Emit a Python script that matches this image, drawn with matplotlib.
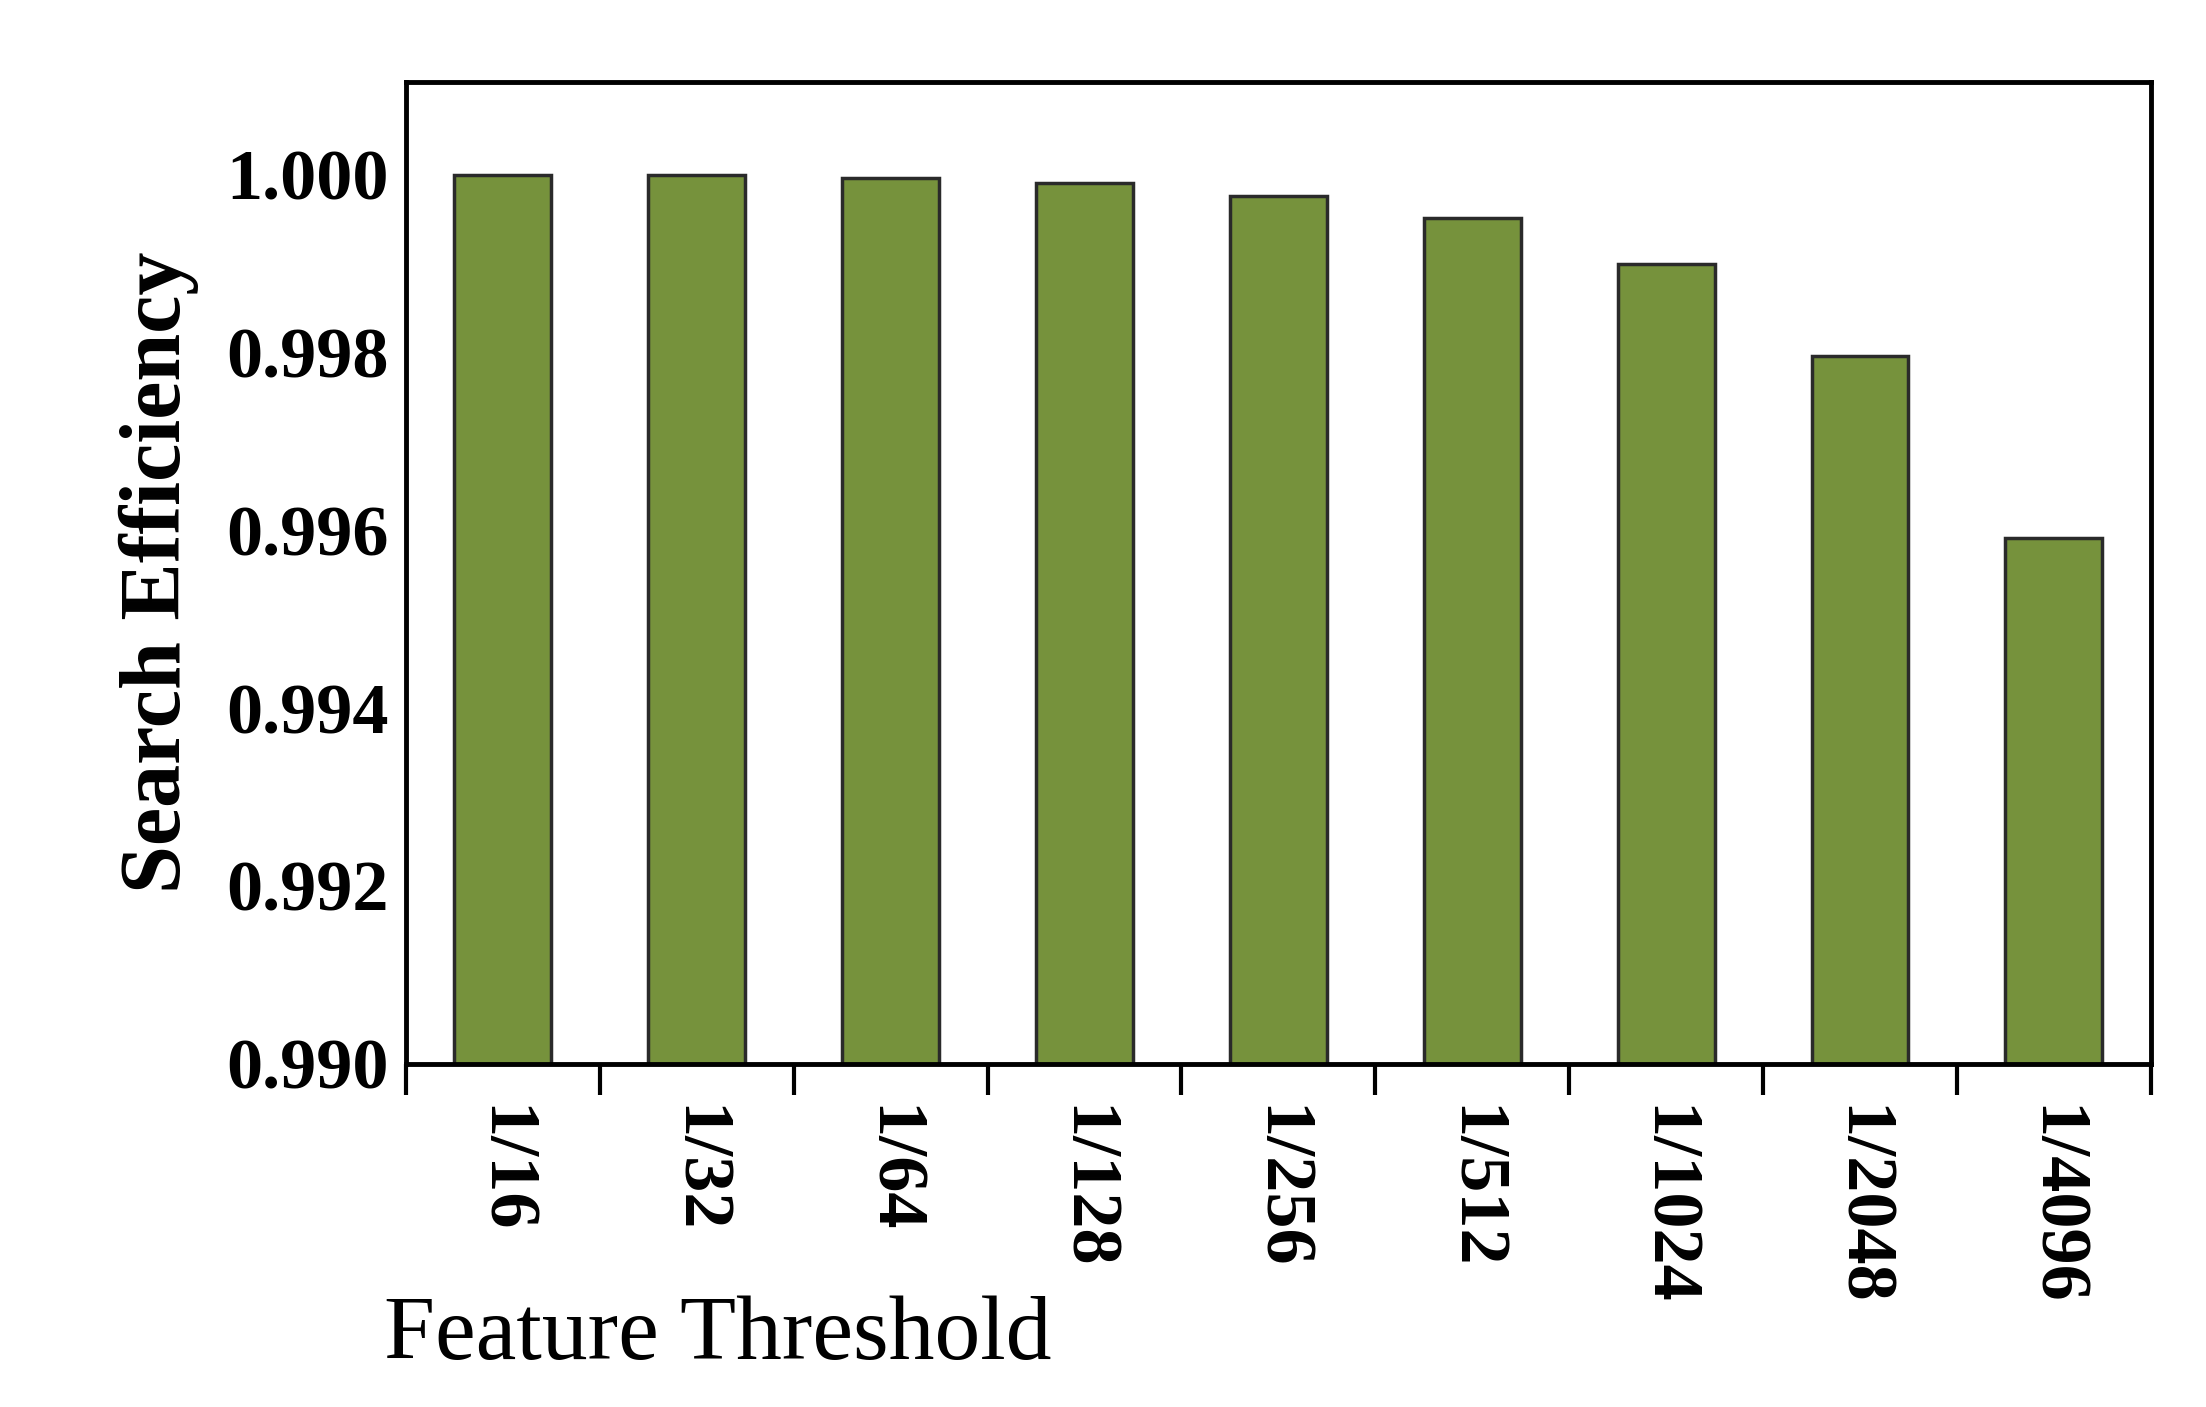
import matplotlib
matplotlib.use("Agg")
import matplotlib.pyplot as plt
import numpy as np

categories = ["1/16", "1/32", "1/64", "1/128", "1/256", "1/512", "1/1024", "1/2048", "1/4096"]
values = [1.0000, 1.0000, 0.99997, 0.99991, 0.99976, 0.99952, 0.99900, 0.99796, 0.99591]

plt.rcParams['font.family'] = ['Liberation Serif', 'DejaVu Serif']
fig = plt.figure(figsize=(22.06, 14.07), dpi=100)
ax = fig.add_axes([0.184, 0.244, 0.791, 0.698])
x = np.arange(len(categories))
ax.bar(x, values, width=0.5, color='#76923C', edgecolor='#2a2a2a', linewidth=2.5)
ax.set_xlim(-0.5, len(categories) - 0.5)
ax.set_ylim(0.990, 1.00105)
ax.set_yticks([0.990, 0.992, 0.994, 0.996, 0.998, 1.000])
ax.set_yticklabels(["0.990", "0.992", "0.994", "0.996", "0.998", "1.000"], fontsize=52, fontweight='bold')
ax.tick_params(axis='y', length=0, pad=12)
ax.set_xticks(np.arange(-0.5, len(categories)), minor=False)
ax.set_xticklabels([])
ax.tick_params(axis='x', which='major', direction='out', length=22, width=3)
ax.set_xticks(x, minor=True)
ax.set_xticklabels(categories, minor=True, rotation=-90, fontsize=52, fontweight='bold', va='top')
ax.tick_params(axis='x', which='minor', length=0, pad=30)
for s in ax.spines.values():
    s.set_linewidth(3.5)
ax.set_ylabel("Search Efficiency", fontsize=62, fontweight='bold', labelpad=20)
fig.text(0.174, 0.05, "Feature Threshold", fontsize=66, ha='left', va='center')
fig.savefig("out.png", dpi=100)
